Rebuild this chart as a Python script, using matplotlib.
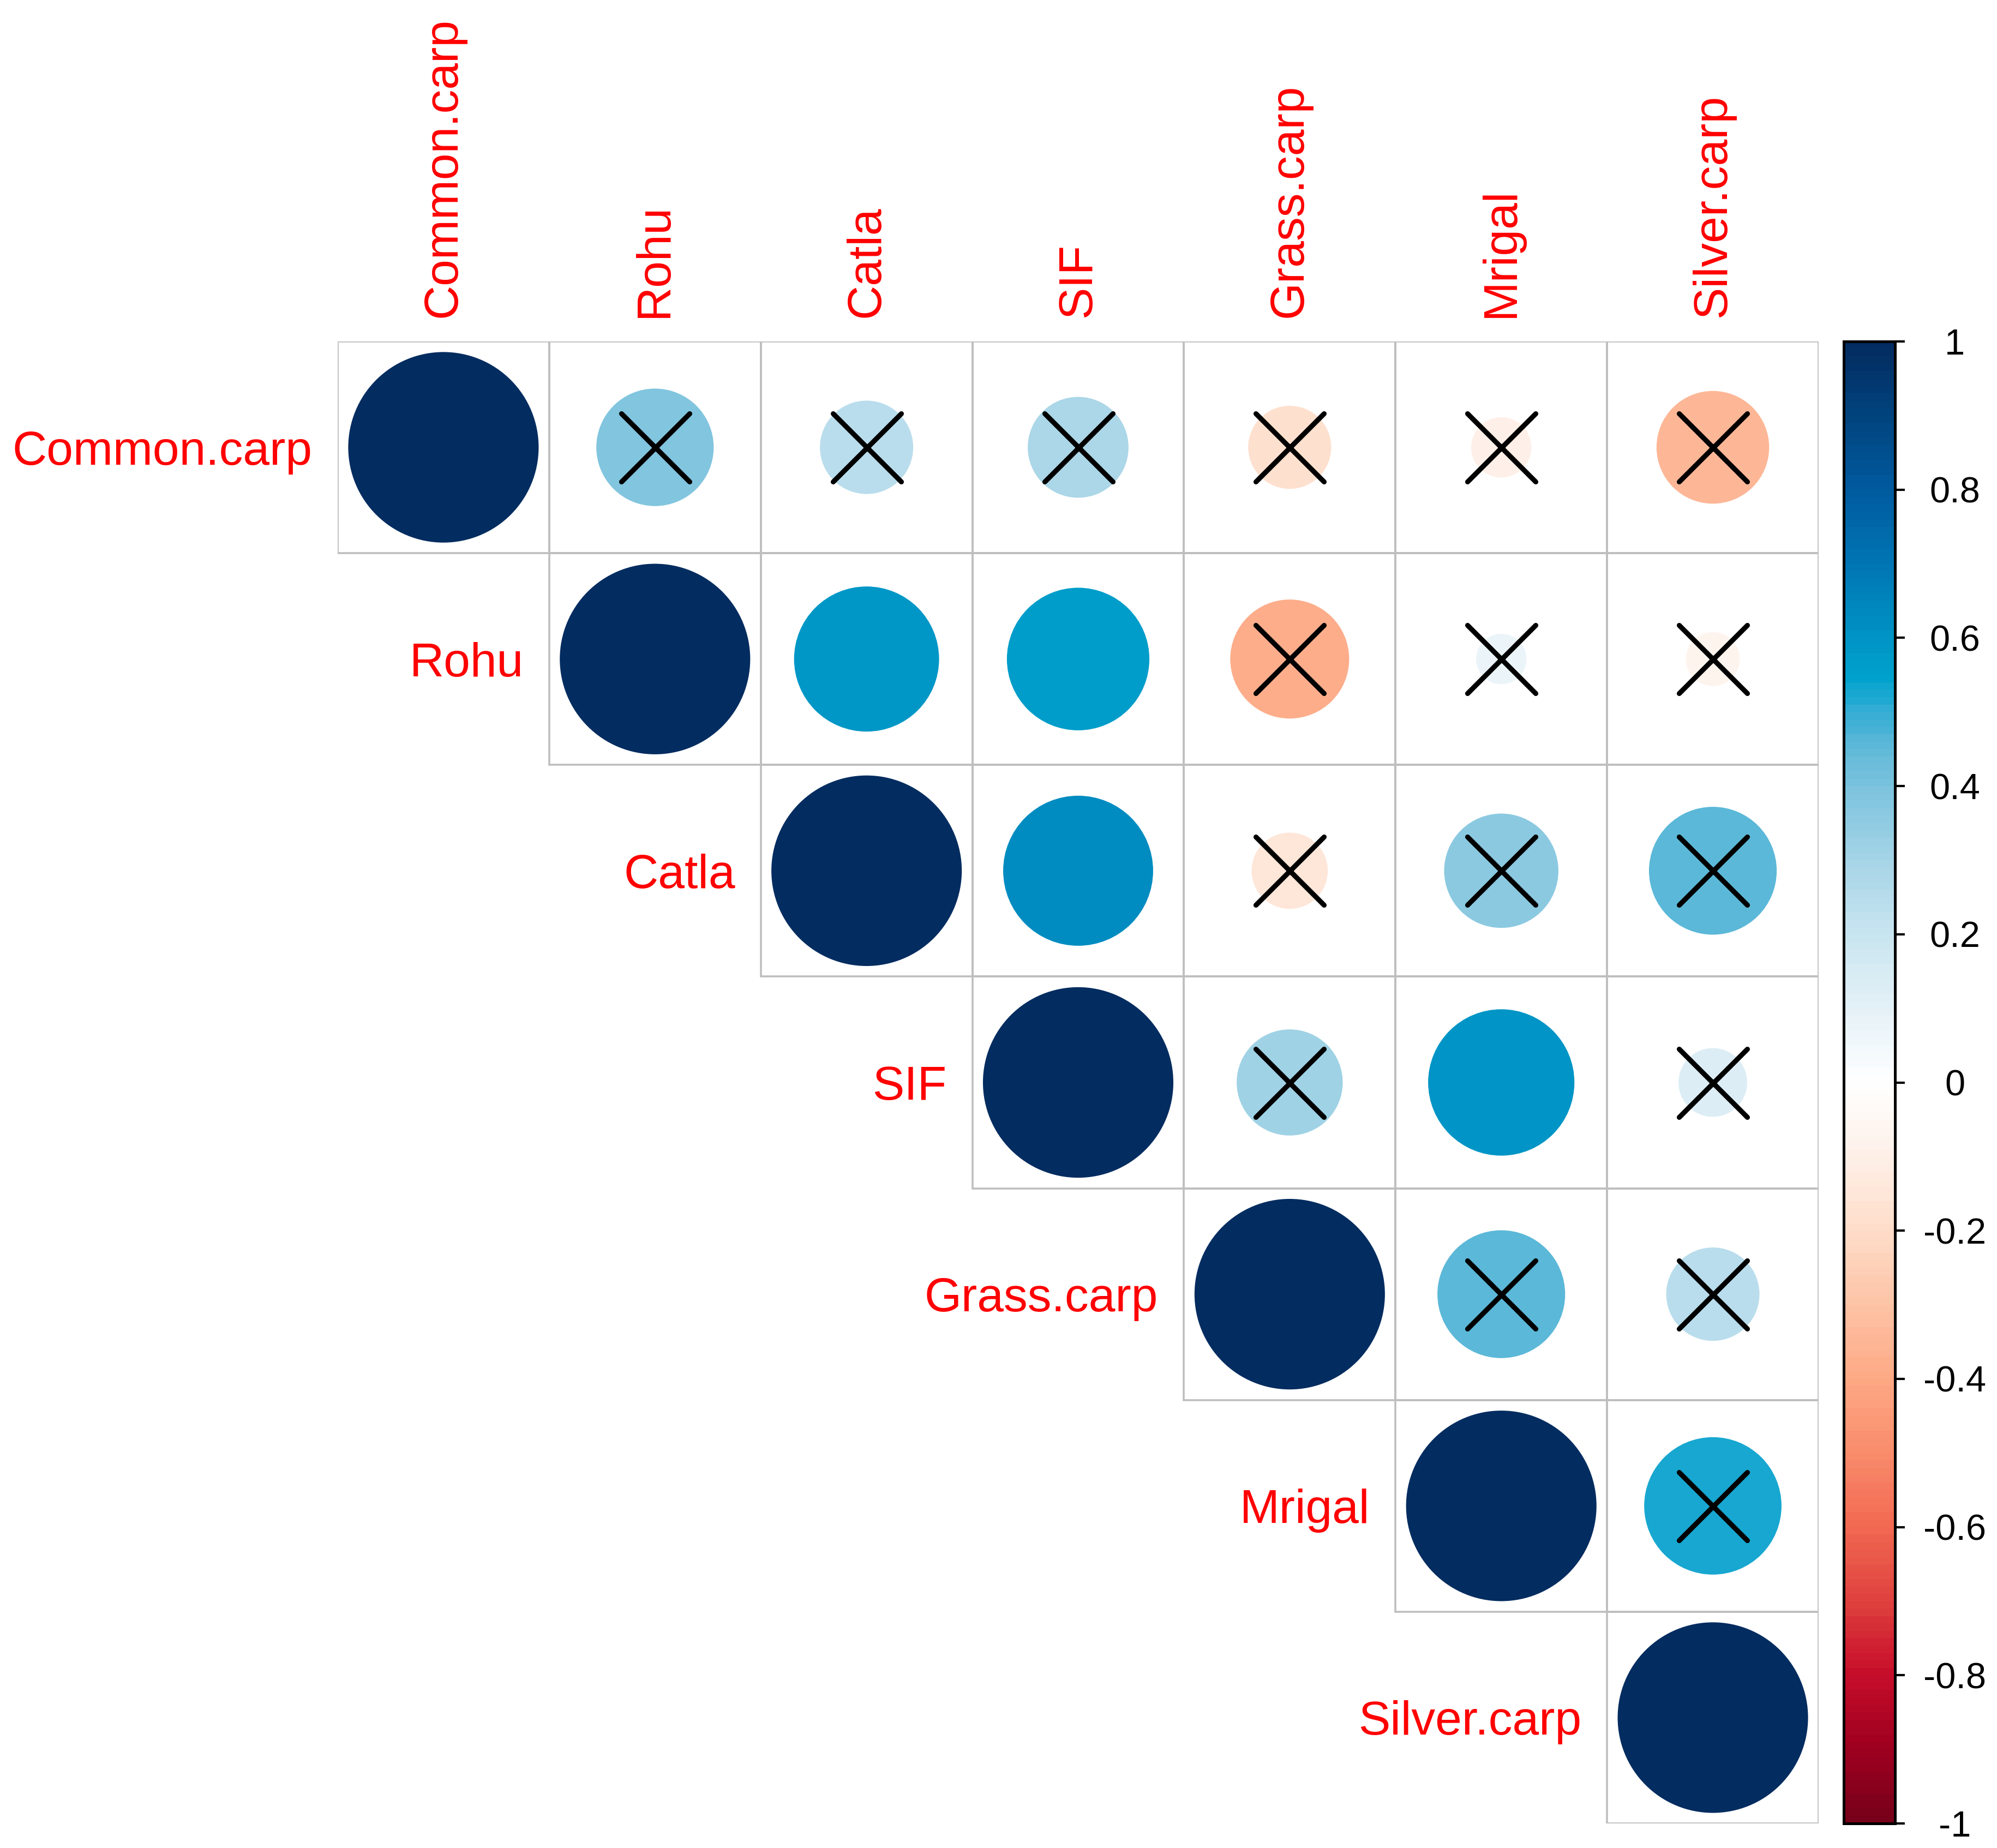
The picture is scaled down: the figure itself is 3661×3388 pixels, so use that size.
import numpy as np
import matplotlib
matplotlib.use("Agg")
import matplotlib.pyplot as plt
from matplotlib.patches import Circle, Rectangle
from matplotlib.colors import LinearSegmentedColormap, ListedColormap, Normalize
from matplotlib.markers import MarkerStyle
from matplotlib.cm import ScalarMappable

# ---------------- data ----------------
species = ["Common.carp", "Rohu", "Catla", "SIF", "Grass.carp", "Mrigal", "Silver.carp"]

# upper triangle rows (diagonal first)
row_common = [1.00, 0.38, 0.24, 0.28, -0.19, -0.10, -0.35]
row_rohu   = [1.00, 0.58, 0.56, -0.39, 0.07, -0.08]
row_catla  = [1.00, 0.62, -0.16, 0.36, 0.45]
row_sif    = [1.00, 0.31, 0.59, 0.13]
row_grass  = [1.00, 0.45, 0.24]
row_mrigal = [1.00, 0.52]
row_silver = [1.00]

# 1 = not significant (crossed)
insig_common = [0, 1, 1, 1, 1, 1, 1]
insig_rohu   = [0, 0, 0, 1, 1, 1]
insig_catla  = [0, 0, 1, 1, 1]
insig_sif    = [0, 1, 0, 1]
insig_grass  = [0, 1, 1]
insig_mrigal = [0, 1]
insig_silver = [0]

cbar_ticks = [1, 0.8, 0.6, 0.4, 0.2, 0, -0.2, -0.4, -0.6, -0.8, -1]
cbar_ticklabels = ["1", "0.8", "0.6", "0.4", "0.2", "0", "-0.2", "-0.4", "-0.6", "-0.8", "-1"]

rows = [row_common, row_rohu, row_catla, row_sif, row_grass, row_mrigal, row_silver]
insig_rows = [insig_common, insig_rohu, insig_catla, insig_sif, insig_grass, insig_mrigal, insig_silver]

# ---------------- colormap ----------------
anchors = [
    (-1.0, "#78001A"), (-0.9, "#A00020"), (-0.8, "#C80F2B"), (-0.7, "#E0443F"),
    (-0.6, "#F26A52"), (-0.5, "#F98D6D"), (-0.4, "#FDAA86"), (-0.3, "#FDC4A6"),
    (-0.2, "#FEDDCA"), (-0.1, "#FEF0E8"), (0.0, "#FFFFFF"), (0.1, "#E4F1F7"),
    (0.2, "#C9E5F0"), (0.3, "#A6D5E7"), (0.4, "#7CC3DE"), (0.45, "#63BAD9"),
    (0.5, "#38AED4"), (0.55, "#00A2CD"), (0.6, "#0095C6"), (0.7, "#0077B5"),
    (0.8, "#005CA0"), (0.9, "#004580"), (1.0, "#032C60"),
]
base = LinearSegmentedColormap.from_list(
    "corr", [((v + 1) / 2, c) for v, c in anchors])
cmap = ListedColormap(base(np.linspace(0, 1, 200)))
norm = Normalize(-1, 1)

# ---------------- figure ----------------
plt.rcParams["font.family"] = ["Liberation Sans", "DejaVu Sans"]
W, H, DPI = 3661, 3388, 300
fig = plt.figure(figsize=(W / DPI, H / DPI), dpi=DPI)

gl, gr, gt, gb = 619, 3334, 626, 3343
ax = fig.add_axes([gl / W, 1 - gb / H, (gr - gl) / W, (gb - gt) / H])
n = len(species)
ax.set_xlim(0, n)
ax.set_ylim(n, 0)
ax.axis("off")

grid_color = "#BEBEBE"
cross_x, cross_y = [], []
for i, (vals, flags) in enumerate(zip(rows, insig_rows)):
    for k, (v, f) in enumerate(zip(vals, flags)):
        j = i + k
        ax.add_patch(Rectangle((j, i), 1, 1, facecolor="none",
                               edgecolor=grid_color, linewidth=0.85, zorder=1))
        r = 0.45 * np.sqrt(abs(v))
        ax.add_patch(Circle((j + 0.5, i + 0.5), r, facecolor=cmap(norm(v)),
                            edgecolor="none", zorder=2))
        if f:
            cross_x.append(j + 0.5)
            cross_y.append(i + 0.5)

ax.plot(cross_x, cross_y, linestyle="none",
        marker=MarkerStyle("x", capstyle="round"), markersize=30,
        markeredgewidth=2.2, color="black", zorder=3)

label_fs = 21
for i, name in enumerate(species):
    ax.text(i + 0.5, -0.113, name, rotation=90, ha="center", va="bottom",
            color="red", fontsize=label_fs, clip_on=False)
    ax.text(i - 0.121, i + 0.5, name, ha="right", va="center_baseline",
            color="red", fontsize=label_fs, clip_on=False)

# ---------------- colorbar ----------------
cl, cr = 3380, 3474
cax = fig.add_axes([cl / W, 1 - gb / H, (cr - cl) / W, (gb - gt) / H])
cb = fig.colorbar(ScalarMappable(norm=norm, cmap=cmap), cax=cax, ticks=cbar_ticks)
cb.outline.set_linewidth(1.2)
cb.outline.set_edgecolor("black")
cax.set_yticklabels(cbar_ticklabels)
cax.tick_params(axis="y", length=4.3, width=1.0, pad=22, labelsize=16, direction="out")
for lab in cax.get_yticklabels():
    lab.set_ha("center")

fig.savefig("out.png", dpi=DPI)
